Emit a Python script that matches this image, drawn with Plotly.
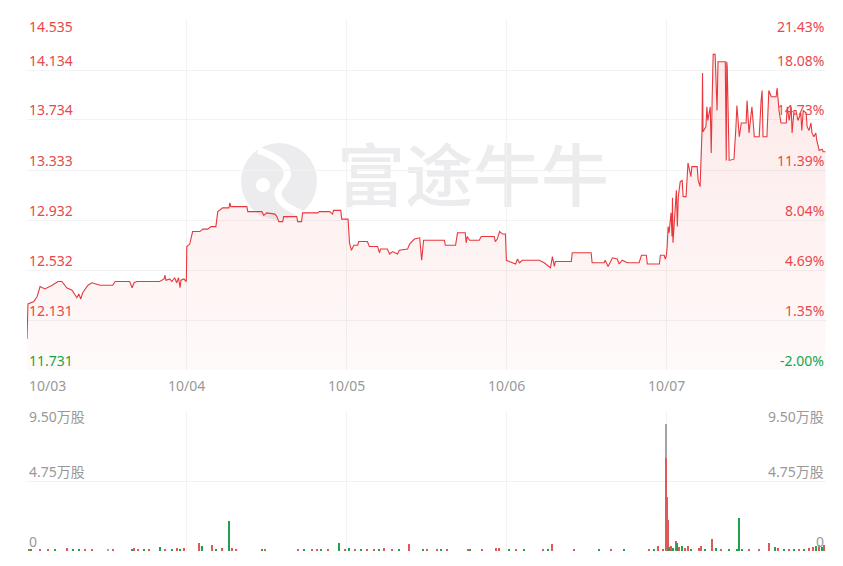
import plotly.graph_objects as go

# ---------------- data ----------------
PRE_CLOSE = 11.970
day_labels = ["10/03", "10/04", "10/05", "10/06", "10/07"]
day_starts = [0, 330, 660, 990, 1320]          # minute index of each session start
TOTAL_MIN = 1650

price_ticks = [14.535, 14.134, 13.734, 13.333, 12.932, 12.532, 12.131, 11.731]
pct_labels = ["21.43%", "18.08%", "14.73%", "11.39%", "8.04%", "4.69%", "1.35%", "-2.00%"]
vol_ticks = [0, 4.75, 9.5]
vol_labels = ["0", "4.75万股", "9.50万股"]

# minute index (continuous over 5 sessions) and price
d1_t = [0, 2, 14, 21, 27, 37, 52, 64, 72, 82, 93, 103, 107, 111, 115, 126, 134, 151, 177, 182,
        212, 217, 221, 227, 248, 274, 283, 285, 287, 295, 299, 305, 309, 313, 316, 318, 324, 329]
d1_p = [11.98, 12.26, 12.28, 12.32, 12.40, 12.38, 12.41, 12.44, 12.44, 12.39, 12.37, 12.31, 12.34,
        12.30, 12.35, 12.41, 12.43, 12.41, 12.41, 12.44, 12.44, 12.39, 12.43, 12.44, 12.44, 12.44,
        12.46, 12.49, 12.45, 12.46, 12.44, 12.47, 12.43, 12.47, 12.39, 12.45, 12.46, 12.44]

d2_t = [330, 336, 342, 357, 363, 373, 380, 390, 394, 404, 417, 419, 421, 425, 454, 456, 485, 489,
        495, 512, 516, 520, 528, 530, 557, 559, 567, 569, 600, 604, 625, 631, 633, 648, 650, 659]
d2_p = [12.72, 12.74, 12.84, 12.84, 12.86, 12.86, 12.88, 12.88, 13.00, 13.03, 13.03, 13.07, 13.04,
        13.04, 13.04, 13.00, 13.00, 12.97, 12.99, 12.98, 12.96, 12.92, 12.92, 12.96, 12.96, 12.92,
        12.92, 12.99, 12.99, 13.00, 13.00, 12.98, 13.01, 13.01, 12.94, 12.94]

d3_t = [663, 666, 670, 675, 683, 685, 703, 707, 724, 728, 730, 744, 749, 755, 765, 769, 786, 790,
        800, 811, 815, 819, 862, 864, 885, 889, 905, 907, 909, 914, 934, 938, 965, 967, 971, 976,
        982, 988]
d3_p = [12.94, 12.75, 12.69, 12.73, 12.73, 12.76, 12.76, 12.72, 12.72, 12.67, 12.70, 12.70, 12.66,
        12.68, 12.66, 12.69, 12.70, 12.74, 12.78, 12.79, 12.61, 12.77, 12.77, 12.73, 12.73, 12.83,
        12.83, 12.75, 12.80, 12.77, 12.77, 12.80, 12.80, 12.76, 12.78, 12.84, 12.82, 12.82]

d4_t = [990, 996, 1009, 1013, 1017, 1023, 1058, 1068, 1081, 1085, 1089, 1091, 1124, 1126, 1165,
        1167, 1192, 1194, 1200, 1209, 1219, 1223, 1229, 1240, 1264, 1269, 1279, 1281, 1306, 1308,
        1316, 1318]
d4_p = [12.61, 12.60, 12.58, 12.62, 12.59, 12.61, 12.61, 12.59, 12.55, 12.64, 12.56, 12.60, 12.60,
        12.67, 12.67, 12.59, 12.59, 12.61, 12.56, 12.63, 12.62, 12.58, 12.61, 12.59, 12.59, 12.65,
        12.65, 12.58, 12.58, 12.65, 12.65, 12.62]

d5_t = [1320, 1322, 1324, 1326, 1330, 1332, 1333, 1334, 1339, 1341, 1343, 1345, 1349, 1353, 1355,
        1361, 1365, 1367, 1371, 1373, 1384, 1386, 1390, 1394, 1395, 1396, 1402, 1404, 1406, 1411,
        1413, 1415, 1417, 1421, 1423, 1425, 1427, 1442, 1444, 1445, 1446, 1450, 1460, 1464, 1466,
        1471, 1475, 1485, 1487, 1491, 1495, 1497, 1502, 1512, 1516, 1518, 1520, 1528, 1532, 1537,
        1547, 1549, 1553, 1557, 1568, 1570, 1574, 1578, 1580, 1584, 1588, 1592, 1598, 1600, 1603,
        1609, 1611, 1615, 1619, 1621, 1625, 1629, 1631, 1636, 1642, 1644, 1646, 1649]
d5_p = [12.64, 12.72, 12.88, 12.83, 12.99, 12.80, 13.11, 12.75, 13.04, 13.17,
        12.88, 13.12, 13.24, 13.25, 13.12, 13.12, 13.39, 13.36, 13.28, 13.36,
        13.36, 13.25, 13.20, 13.65, 14.11, 13.64, 13.68, 13.84, 13.73, 13.84,
        13.47, 13.92, 14.26, 14.26, 13.95, 13.81, 14.20, 14.20, 13.41, 14.20,
        14.16, 13.41, 13.42, 13.68, 13.85, 13.60, 13.71, 13.71, 13.89, 13.63,
        13.81, 13.84, 13.60, 13.60, 13.89, 13.97, 13.60, 13.60, 13.97, 13.92,
        13.92, 13.99, 13.81, 13.71, 13.71, 13.84, 13.73, 13.84, 13.63, 13.81,
        13.81, 13.73, 13.79, 13.65, 13.81, 13.79, 13.68, 13.65, 13.71, 13.63,
        13.60, 13.63, 13.57, 13.49, 13.50, 13.48, 13.48, 13.48]

# volume (万股) at minute index, with price direction: u=up, d=down, f=flat
vol_t = [4, 8, 27, 43, 58, 82, 95, 107, 120, 134, 167, 177, 217, 221, 229, 241, 252, 274, 285, 299,
         311, 316, 324, 355, 361, 382, 390, 402, 417, 423, 431, 485, 491, 559, 573, 588, 600, 608,
         621, 644, 656, 666, 677, 691, 703, 716, 728, 738, 753, 769, 790, 817, 827, 846, 856, 868,
         910, 916, 940, 969, 976, 996, 1011, 1027, 1066, 1077, 1085, 1130, 1182, 1207, 1233, 1285,
         1295, 1303, 1314, 1319, 1320, 1322, 1324, 1326, 1330, 1334, 1341, 1343, 1347, 1353, 1359,
         1365, 1371, 1388, 1392, 1400, 1415, 1423, 1433, 1450, 1466, 1471, 1477, 1491, 1512, 1532,
         1545, 1551, 1563, 1574, 1584, 1594, 1605, 1615, 1623, 1629, 1636, 1642, 1646]
vol_v = [0.07, 0.07, 0.07, 0.14, 0.07, 0.20, 0.07, 0.14, 0.07, 0.14,
         0.07, 0.07, 0.14, 0.20, 0.14, 0.14, 0.07, 0.27, 0.14, 0.07,
         0.20, 0.14, 0.20, 0.55, 0.34, 0.41, 0.14, 0.20, 2.05, 0.20,
         0.14, 0.07, 0.07, 0.14, 0.14, 0.07, 0.14, 0.07, 0.14, 0.55,
         0.14, 0.20, 0.14, 0.14, 0.07, 0.14, 0.14, 0.20, 0.14, 0.07,
         0.48, 0.07, 0.14, 0.14, 0.07, 0.14, 0.07, 0.14, 0.07, 0.20,
         0.20, 0.14, 0.07, 0.07, 0.07, 0.07, 0.48, 0.07, 0.07, 0.07,
         0.07, 0.14, 0.07, 0.34, 0.14, 8.68, 6.36, 3.69, 2.12, 0.27,
         0.34, 0.20, 0.68, 0.55, 0.27, 0.34, 0.20, 0.34, 0.14, 0.20,
         0.34, 0.14, 0.82, 0.20, 0.14, 0.07, 0.14, 2.25, 0.14, 0.07,
         0.14, 0.55, 0.27, 0.20, 0.14, 0.14, 0.14, 0.10, 0.14, 0.20,
         0.27, 0.34, 0.40, 0.30, 0.41]
vol_dir = ["u", "d", "u", "u", "d", "u", "d", "d", "u", "u",
           "f", "u", "d", "u", "u", "d", "u", "d", "u", "d",
           "u", "d", "u", "u", "d", "u", "d", "u", "d", "u",
           "u", "d", "u", "u", "d", "u", "u", "d", "u", "d",
           "u", "d", "u", "d", "u", "u", "d", "u", "u", "d",
           "u", "d", "u", "u", "d", "u", "u", "d", "u", "u",
           "u", "d", "u", "d", "u", "d", "u", "u", "d", "u",
           "d", "u", "d", "u", "u", "f", "u", "u", "u", "d",
           "u", "d", "u", "d", "u", "d", "u", "u", "d", "u",
           "u", "d", "u", "d", "u", "d", "d", "d", "d", "u",
           "u", "u", "d", "u", "d", "u", "d", "u", "d", "u",
           "u", "d", "u", "d", "u"]

# ---------------- styling ----------------
RED = "#e8474c"
GREEN = "#1aa34a"
GREY_TXT = "#999999"
GRID = "#f2f2f2"
FONT = "Noto Sans, Noto Sans CJK SC, sans-serif"
dir_color = {"u": "#dd5a5a", "d": "#22a04c", "f": "#a3a3a3"}

times = d1_t + d2_t + d3_t + d4_t + d5_t
prices = d1_p + d2_p + d3_p + d4_p + d5_p

W, H = 843, 566
ML, MR, MT, MB = 27, 17, 20, 15
plot_h = H - MT - MB
price_bottom_px = 370
vol_top_px = 412
price_dom = [(H - MB - price_bottom_px) / plot_h, 1.0]
vol_dom = [0.0, (H - MB - vol_top_px) / plot_h]

fig = go.Figure()

fig.add_trace(go.Scatter(
    x=times, y=prices, mode="lines",
    line=dict(color="#e8383d", width=1.1),
    fill="tozeroy",
    fillgradient=dict(type="vertical", start=price_ticks[-1], stop=14.3,
                      colorscale=[[0, "rgba(240,80,80,0.03)"], [1, "rgba(240,80,80,0.13)"]]),
    hoverinfo="skip", xaxis="x", yaxis="y", showlegend=False,
))

fig.add_trace(go.Bar(
    x=vol_t, y=vol_v, width=2.6,
    marker=dict(color=[dir_color[d] for d in vol_dir], line=dict(width=0)),
    hoverinfo="skip", xaxis="x2", yaxis="y2", showlegend=False,
))

axis_common = dict(showline=False, zeroline=False, ticks="", showticklabels=False,
                   showgrid=True, gridcolor=GRID, gridwidth=1)

fig.update_layout(
    width=W, height=H,
    margin=dict(l=ML, r=MR, t=MT, b=MB, pad=0),
    paper_bgcolor="white", plot_bgcolor="white",
    font=dict(family=FONT, size=14),
    bargap=0,
    xaxis=dict(domain=[0, 1], range=[0, TOTAL_MIN], tickvals=day_starts[1:], anchor="y", **axis_common),
    yaxis=dict(domain=price_dom, range=[price_ticks[-1], price_ticks[0]], tickvals=price_ticks,
               anchor="x", **axis_common),
    xaxis2=dict(domain=[0, 1], range=[0, TOTAL_MIN], tickvals=day_starts[1:], anchor="y2",
                matches="x", **axis_common),
    yaxis2=dict(domain=vol_dom, range=[vol_ticks[0], vol_ticks[-1]], tickvals=vol_ticks,
                anchor="x2", **axis_common),
)

ann = []
top_price = max(price_ticks)
for v, pl in zip(price_ticks, pct_labels):
    col = RED if v > PRE_CLOSE else GREEN
    ys = -6 if v == top_price else 10
    ann.append(dict(text=f"{v:.3f}", x=0, xref="x domain", xanchor="left", y=v, yref="y",
                    yanchor="middle", yshift=ys, showarrow=False, font=dict(color=col, size=14)))
    ann.append(dict(text=pl, x=1, xref="x domain", xanchor="right", y=v, yref="y",
                    yanchor="middle", yshift=ys, showarrow=False, font=dict(color=col, size=14)))

top_vol = max(vol_ticks)
for v, vl in zip(vol_ticks, vol_labels):
    ys = -5 if v == top_vol else 10
    for xx, xa in ((0, "left"), (1, "right")):
        ann.append(dict(text=vl, x=xx, xref="x2 domain", xanchor=xa, y=v, yref="y2",
                        yanchor="middle", yshift=ys, showarrow=False,
                        font=dict(color=GREY_TXT, size=14)))

for i, (d, lbl) in enumerate(zip(day_starts, day_labels)):
    ann.append(dict(text=lbl, x=d, xref="x", xanchor="left" if i == 0 else "center",
                    y=price_dom[0], yref="paper", yanchor="middle", yshift=-15,
                    showarrow=False, font=dict(color=GREY_TXT, size=14)))

fig.update_layout(annotations=ann)

# watermark (logo + brand text), placed below the traces
def px_x(px):
    return (px - ML) / (W - ML - MR)

def px_y(py):
    return (H - MB - py) / plot_h

WM = "#ececee"
shapes = [
    dict(type="circle", xref="paper", yref="paper", layer="below",
         x0=px_x(241), x1=px_x(317), y0=px_y(220), y1=px_y(143),
         fillcolor=WM, line=dict(width=0)),
    dict(type="path", xref="paper", yref="paper", layer="below",
         path=(f"M {px_x(258)} {px_y(150)} Q {px_x(300)} {px_y(165)} {px_x(282)} {px_y(185)}"
               f" Q {px_x(268)} {px_y(200)} {px_x(302)} {px_y(214)}"),
         line=dict(color="white", width=7)),
    dict(type="circle", xref="paper", yref="paper", layer="below",
         x0=px_x(256), x1=px_x(270), y0=px_y(192), y1=px_y(178),
         fillcolor="white", line=dict(width=0)),
    dict(type="rect", xref="paper", yref="paper", layer="below",
         x0=px_x(330), x1=px_x(616), y0=px_y(218), y1=px_y(146),
         line=dict(width=0), fillcolor="rgba(0,0,0,0)",
         label=dict(text="富途牛牛", textposition="middle center",
                    font=dict(family="Noto Sans CJK SC", size=68, color=WM, weight=500))),
]
fig.update_layout(shapes=shapes)

fig.write_html("out.html", config={"displayModeBar": False},
               post_script="document.body.style.margin='0';")
